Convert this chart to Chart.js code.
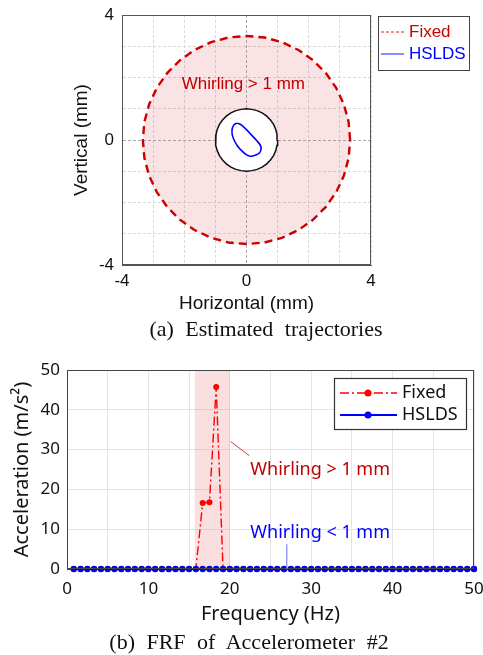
<!DOCTYPE html>
<html><head><meta charset="utf-8">
<script src="https://cdn.jsdelivr.net/npm/chart.js@4/dist/chart.umd.min.js"></script>
<style>
html,body{margin:0;padding:0;background:#fff;width:483px;height:655px;overflow:hidden;}
#c1{position:absolute;left:0;top:0;}
#c2{position:absolute;left:0;top:340px;}
.cap{position:absolute;font-family:'Liberation Serif','Times New Roman',serif;font-size:22px;word-spacing:6px;white-space:nowrap;transform:translateX(-50%);color:#111;line-height:22px;}
</style></head><body>
<canvas id="c1" width="483" height="318"></canvas>
<canvas id="c2" width="483" height="290"></canvas>
<div class="cap" style="left:266px;top:318px">(a) Estimated trajectories</div>
<div class="cap" style="left:249px;top:631px">(b) FRF of Accelerometer #2</div>
<script>
// ---------- (a) trajectories ----------
const fixedTrajX = [3.33,3.28,3.13,2.88,2.55,2.14,1.67,1.14,0.58,0,-0.58,-1.14,-1.67,-2.14,-2.55,-2.88,-3.13,-3.28,-3.33,-3.28,-3.13,-2.88,-2.55,-2.14,-1.67,-1.14,-0.58,0,0.58,1.14,1.67,2.14,2.55,2.88,3.13,3.28,3.33];
const fixedTrajY = [0,0.58,1.14,1.67,2.14,2.55,2.88,3.13,3.28,3.33,3.28,3.13,2.88,2.55,2.14,1.67,1.14,0.58,0,-0.58,-1.14,-1.67,-2.14,-2.55,-2.88,-3.13,-3.28,-3.33,-3.28,-3.13,-2.88,-2.55,-2.14,-1.67,-1.14,-0.58,0];
const limitX = [1,0.98,0.94,0.87,0.77,0.64,0.5,0.34,0.17,0,-0.17,-0.34,-0.5,-0.64,-0.77,-0.87,-0.94,-0.98,-1,-0.98,-0.94,-0.87,-0.77,-0.64,-0.5,-0.34,-0.17,0,0.17,0.34,0.5,0.64,0.77,0.87,0.94,0.98,1];
const limitY = [0,0.17,0.34,0.5,0.64,0.77,0.87,0.94,0.98,1,0.98,0.94,0.87,0.77,0.64,0.5,0.34,0.17,0,-0.17,-0.34,-0.5,-0.64,-0.77,-0.87,-0.94,-0.98,-1,-0.98,-0.94,-0.87,-0.77,-0.64,-0.5,-0.34,-0.17,0];
const hsldsTrajX = [-0.29,-0.15,-0.01,0.14,0.31,0.44,0.47,0.42,0.28,0.12,-0.01,-0.15,-0.29,-0.40,-0.46,-0.46,-0.40,-0.29];
const hsldsTrajY = [0.54,0.47,0.34,0.18,0.0,-0.16,-0.28,-0.41,-0.49,-0.52,-0.47,-0.35,-0.19,0.0,0.18,0.36,0.49,0.54];
const trajTickLabels = [-4, 0, 4];

// ---------- (b) FRF ----------
const freqHz = [0.83,1.67,2.5,3.33,4.17,5,5.83,6.67,7.5,8.33,9.17,10,10.83,11.67,12.5,13.33,14.17,15,15.83,16.67,17.5,18.33,19.17,20,20.83,21.67,22.5,23.33,24.17,25,25.83,26.67,27.5,28.33,29.17,30,30.83,31.67,32.5,33.33,34.17,35,35.83,36.67,37.5,38.33,39.17,40,40.83,41.67,42.5,43.33,44.17,45,45.83,46.67,47.5,48.33,49.17,50];
const fixedAccel = [0,0,0,0,0,0,0,0,0,0,0,0,0,0,0,0,0,0,0,16.6,16.8,45.7,0,0,0,0,0,0,0,0,0,0,0,0,0,0,0,0,0,0,0,0,0,0,0,0,0,0,0,0,0,0,0,0,0,0,0,0,0,0];
const hsldsAccel = [0,0,0,0,0,0,0,0,0,0,0,0,0,0,0,0,0,0,0,0,0,0,0,0,0,0,0,0,0,0,0,0,0,0,0,0,0,0,0,0,0,0,0,0,0,0,0,0,0,0,0,0,0,0,0,0,0,0,0,0];
const freqTickLabels = [0, 10, 20, 30, 40, 50];
const accelTickLabels = [0, 10, 20, 30, 40, 50];
const whirlBand = [15.7, 20.0];

const pts = (xs, ys) => xs.map((x, i) => ({x, y: ys[i]}));
const SANS = "'Liberation Sans', Arial, sans-serif";
const NOTO = "'Noto Sans', 'Liberation Sans', sans-serif";

// ---------- chart (a) ----------
const trajPlugin = {
  id: 'trajDeco',
  afterDraw(chart) {
    const {ctx, chartArea: a, scales: {x, y}} = chart;
    ctx.save();
    ctx.strokeStyle = '#555'; ctx.lineWidth = 1;
    ctx.strokeRect(Math.round(a.left) + 0.5, Math.round(a.top) + 0.5, Math.round(a.right - a.left) - 1, Math.round(a.bottom - a.top) - 1);
    ctx.font = '17px ' + SANS;
    ctx.fillStyle = '#c00000'; ctx.textAlign = 'center'; ctx.textBaseline = 'middle';
    ctx.fillText('Whirling > 1 mm', x.getPixelForValue(-0.1), y.getPixelForValue(1.77));
    ctx.fillStyle = '#fff'; ctx.fillRect(378.5, 16.5, 91, 54);
    ctx.strokeStyle = '#444'; ctx.lineWidth = 1; ctx.strokeRect(378.5, 16.5, 91, 54);
    ctx.beginPath(); ctx.setLineDash([3, 2]); ctx.strokeStyle = '#d22'; ctx.lineWidth = 1;
    ctx.moveTo(381, 32); ctx.lineTo(404, 32); ctx.stroke();
    ctx.setLineDash([]); ctx.beginPath(); ctx.strokeStyle = '#8c8cff'; ctx.lineWidth = 2;
    ctx.moveTo(381, 54); ctx.lineTo(404, 54); ctx.stroke();
    ctx.textAlign = 'left'; ctx.font = '17px ' + SANS;
    ctx.fillStyle = '#cc0000'; ctx.fillText('Fixed', 409, 32);
    ctx.fillStyle = '#0000ff'; ctx.fillText('HSLDS', 409, 54);
    ctx.restore();
  }
};

const trajGridColor = c => (c.tick && c.tick.value === 0) ? '#aaaaaa' : '#d9d9d9';

new Chart(document.getElementById('c1'), {
  type: 'line',
  data: {
    datasets: [
      {label: 'HSLDS', data: pts(hsldsTrajX, hsldsTrajY), borderColor: '#0000ff', borderWidth: 1.6, pointRadius: 0, tension: 0.35, fill: false, order: 1},
      {label: '1 mm', data: pts(limitX, limitY), borderColor: '#111', borderWidth: 1.5, pointRadius: 0, tension: 0, fill: 'shape', backgroundColor: '#ffffff', order: 2},
      {label: 'Fixed', data: pts(fixedTrajX, fixedTrajY), borderColor: '#cc0000', borderWidth: 2.4, borderDash: [8, 5], pointRadius: 0, tension: 0, fill: 'shape', backgroundColor: 'rgba(215,60,70,0.14)', order: 3}
    ]
  },
  options: {
    responsive: false, animation: false, devicePixelRatio: 1,
    layout: {padding: {left: 0, top: 15, right: 112, bottom: 0}},
    plugins: {legend: {display: false}, tooltip: {enabled: false}},
    scales: {
      x: {type: 'linear', min: -4, max: 4, z: 1,
        ticks: {stepSize: 1, autoSkip: false, maxRotation: 0, padding: 6, color: '#111', font: {family: SANS, size: 17},
          callback: v => trajTickLabels.includes(v) ? String(v) : ''},
        grid: {color: trajGridColor, drawTicks: false, lineWidth: 1},
        border: {display: true, color: '#555', dash: [3, 2]},
        title: {display: true, text: 'Horizontal (mm)', color: '#111', font: {family: SANS, size: 19}, padding: {top: 0, bottom: 3}},
        afterFit: s => { s.height = 53; s.paddingLeft = 0; s.paddingRight = 0; }
      },
      y: {type: 'linear', min: -4, max: 4, z: 1,
        ticks: {stepSize: 1, autoSkip: false, padding: 8, color: '#111', font: {family: SANS, size: 17},
          callback: v => trajTickLabels.includes(v) ? String(v) : ''},
        grid: {color: trajGridColor, drawTicks: false, lineWidth: 1},
        border: {display: true, color: '#555', dash: [3, 2]},
        title: {display: true, text: 'Vertical (mm)', color: '#111', font: {family: SANS, size: 19}, padding: {top: 70, bottom: 0}},
        afterFit: s => { s.width = 122; s.paddingTop = 0; s.paddingBottom = 0; }
      }
    }
  },
  plugins: [trajPlugin]
});

// ---------- chart (b) ----------
const frfPlugin = {
  id: 'frfDeco',
  beforeDatasetsDraw(chart) {
    const {ctx, chartArea: a, scales: {x}} = chart;
    const x0 = x.getPixelForValue(whirlBand[0]), x1 = x.getPixelForValue(whirlBand[1]);
    ctx.save(); ctx.fillStyle = 'rgba(220,80,85,0.18)';
    ctx.fillRect(x0, a.top, x1 - x0, a.bottom - a.top); ctx.restore();
  },
  afterDraw(chart) {
    const {ctx, chartArea: a, scales: {x, y}} = chart;
    ctx.save();
    ctx.strokeStyle = '#444'; ctx.lineWidth = 1;
    ctx.strokeRect(Math.round(a.left) + 0.5, Math.round(a.top) + 0.5, Math.round(a.right - a.left) - 1, Math.round(a.bottom - a.top) - 1);
    ctx.beginPath(); ctx.strokeStyle = '#d04040'; ctx.lineWidth = 1;
    ctx.moveTo(x.getPixelForValue(20.1), y.getPixelForValue(32.0));
    ctx.lineTo(x.getPixelForValue(22.4), y.getPixelForValue(28.5)); ctx.stroke();
    ctx.beginPath(); ctx.strokeStyle = '#8080ff'; ctx.lineWidth = 1.2;
    ctx.moveTo(x.getPixelForValue(27.0), y.getPixelForValue(6.2));
    ctx.lineTo(x.getPixelForValue(27.0), y.getPixelForValue(0)); ctx.stroke();
    ctx.font = '18px ' + NOTO; ctx.textAlign = 'center'; ctx.textBaseline = 'middle';
    ctx.fillStyle = '#c00000';
    ctx.fillText('Whirling > 1 mm', x.getPixelForValue(31.1), y.getPixelForValue(25.0));
    ctx.fillStyle = '#0000ff';
    ctx.fillText('Whirling < 1 mm', x.getPixelForValue(31.1), y.getPixelForValue(9.2));
    ctx.fillStyle = '#fff'; ctx.fillRect(334.5, 38.5, 132, 51);
    ctx.strokeStyle = '#333'; ctx.lineWidth = 1.2; ctx.strokeRect(334.5, 38.5, 132, 51);
    ctx.beginPath(); ctx.setLineDash([9, 3, 2, 3]); ctx.strokeStyle = '#ff0000'; ctx.lineWidth = 1.5;
    ctx.moveTo(340, 53); ctx.lineTo(397, 53); ctx.stroke();
    ctx.setLineDash([]);
    ctx.beginPath(); ctx.fillStyle = '#ff0000'; ctx.arc(368, 53, 3.5, 0, Math.PI * 2); ctx.fill();
    ctx.beginPath(); ctx.strokeStyle = '#0000ff'; ctx.lineWidth = 2;
    ctx.moveTo(340, 75); ctx.lineTo(397, 75); ctx.stroke();
    ctx.beginPath(); ctx.fillStyle = '#0000ff'; ctx.arc(368, 75, 3.5, 0, Math.PI * 2); ctx.fill();
    ctx.font = '18px ' + NOTO; ctx.textAlign = 'left'; ctx.fillStyle = '#111';
    ctx.fillText('Fixed', 402, 53);
    ctx.fillText('HSLDS', 402, 75);
    ctx.restore();
  }
};

new Chart(document.getElementById('c2'), {
  type: 'line',
  data: {
    datasets: [
      {label: 'HSLDS', data: pts(freqHz, hsldsAccel), borderColor: '#0000ff', backgroundColor: '#0000ff', borderWidth: 2, pointRadius: 3.2, pointBorderWidth: 0, tension: 0, clip: false, order: 1},
      {label: 'Fixed', data: pts(freqHz, fixedAccel), borderColor: '#ff0000', backgroundColor: '#ff0000', borderWidth: 1.4, borderDash: [9, 3, 2, 3], pointRadius: 3, pointBorderWidth: 0, tension: 0, clip: false, order: 2}
    ]
  },
  options: {
    responsive: false, animation: false, devicePixelRatio: 1,
    layout: {padding: {left: 0, top: 30, right: 9, bottom: 0}},
    plugins: {legend: {display: false}, tooltip: {enabled: false}},
    scales: {
      x: {type: 'linear', min: 0, max: 50,
        ticks: {stepSize: 5, autoSkip: false, maxRotation: 0, padding: 10, color: '#111', font: {family: NOTO, size: 17},
          callback: v => freqTickLabels.includes(v) ? String(v) : ''},
        grid: {color: '#e4e4e4', drawTicks: false, lineWidth: 1},
        border: {display: true, color: '#444'},
        title: {display: true, text: 'Frequency (Hz)', color: '#111', font: {family: NOTO, size: 20}, padding: {top: 0, bottom: 4}},
        afterFit: s => { s.height = 61; s.paddingLeft = 0; s.paddingRight = 0; }
      },
      y: {type: 'linear', min: 0, max: 50,
        ticks: {stepSize: 10, autoSkip: false, padding: 7, color: '#111', font: {family: NOTO, size: 17},
          callback: v => accelTickLabels.includes(v) ? String(v) : ''},
        grid: {color: '#e4e4e4', drawTicks: false, lineWidth: 1},
        border: {display: true, color: '#444'},
        title: {display: true, text: 'Acceleration (m/s²)', color: '#111', font: {family: NOTO, size: 20}, padding: {top: 10, bottom: 0}},
        afterFit: s => { s.width = 67; s.paddingTop = 0; s.paddingBottom = 0; }
      }
    }
  },
  plugins: [frfPlugin]
});
</script>
</body></html>
